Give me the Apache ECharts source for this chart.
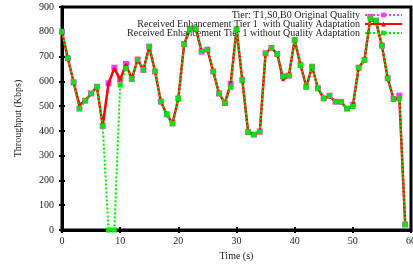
<!DOCTYPE html>
<html><head><meta charset="utf-8">
<script src="https://cdn.jsdelivr.net/npm/echarts@6/dist/echarts.min.js"></script>
<style>html,body{margin:0;padding:0;background:#fff}#c{width:413px;height:265px}</style>
</head><body><div id="c"></div>
<script>
var times = [0,1,2,3,4,5,6,7,8,9,10,11,12,13,14,15,16,17,18,19,20,21,22,23,24,25,26,27,28,29,30,31,32,33,34,35,36,37,38,39,40,41,42,43,44,45,46,47,48,49,50,51,52,53,54,55,56,57,58,59];
var original = [800,693,596,490,522,551,578,420,592,655,607,670,610,688,646,740,640,518,467,430,531,750,812,812,720,728,640,551,512,590,810,605,395,385,397,713,735,710,620,623,767,666,578,659,572,531,542,518,517,490,505,655,686,860,845,744,612,529,542,22];
var withQA = [800,693,596,505,522,551,578,420,592,652,607,668,610,688,646,740,640,518,467,430,531,750,812,812,720,728,640,551,512,590,810,605,395,385,397,713,735,710,608,623,767,666,578,659,572,531,540,518,517,488,500,655,686,850,840,744,612,529,530,22];
var withoutQA = [800,693,596,490,522,551,578,420,0,0,585,652,610,688,646,740,640,518,467,430,531,750,812,812,720,728,640,551,512,575,810,605,395,385,397,713,735,710,620,623,767,666,578,659,572,531,542,518,517,490,498,655,686,852,845,744,612,529,530,22];
var seriesNames = ['Tier: T1,S0,B0 Original Quality','Received Enhancement Tier 1  with Quality Adaptation','Received Enhancement Tier 1 without Quality Adaptation'];
var xTicks = [0,10,20,30,40,50,60];
var yTicks = [0,100,200,300,400,500,600,700,800,900];

function pairs(v){ return times.map(function(t,i){ return [t, v[i]]; }); }
var font = 'Liberation Serif';
var chart = echarts.init(document.getElementById('c'), null, {renderer:'canvas'});
chart.setOption({
  animation:false,
  backgroundColor:'#fff',
  grid:{left:62,right:2,top:7,bottom:35,show:true,borderColor:'#000',borderWidth:3,backgroundColor:'transparent',
        containLabel:false, outerBoundsMode:'none'},
  legend:{
    orient:'vertical', right:5, top:5, align:'right', itemGap:-1, itemWidth:37, itemHeight:6,
    textStyle:{fontFamily:font, fontSize:10, color:'#222', lineHeight:9, padding:[0,0,0,0]},
    data:seriesNames
  },
  xAxis:[{
    type:'value', min:xTicks[0], max:xTicks[xTicks.length-1], interval:10,
    name:'Time (s)', nameLocation:'middle', nameGap:17,
    nameTextStyle:{fontFamily:font, fontSize:10, color:'#222'},
    axisLine:{show:true, lineStyle:{color:'#000', width:3}},
    axisTick:{show:true, inside:true, length:3, lineStyle:{color:'#000', width:2}},
    axisLabel:{fontFamily:font, fontSize:10, color:'#222', margin:6},
    splitLine:{show:false}
  },{
    type:'value', min:xTicks[0], max:xTicks[xTicks.length-1], interval:10, position:'top',
    axisLine:{show:false}, axisTick:{show:true, inside:true, length:3, lineStyle:{color:'#000', width:2}},
    axisLabel:{show:false}, splitLine:{show:false}
  }],
  yAxis:[{
    type:'value', min:yTicks[0], max:yTicks[yTicks.length-1], interval:100,
    name:'Throughput (Kbps)', nameLocation:'middle', nameGap:39,
    nameTextStyle:{fontFamily:font, fontSize:10, color:'#222'},
    axisLine:{show:true, lineStyle:{color:'#000', width:3}},
    axisTick:{show:true, inside:true, length:3, lineStyle:{color:'#000', width:2}},
    axisLabel:{fontFamily:font, fontSize:10, color:'#222', margin:8},
    splitLine:{show:false}
  },{
    type:'value', min:yTicks[0], max:yTicks[yTicks.length-1], interval:100, position:'right',
    axisLine:{show:false}, axisTick:{show:true, inside:true, length:3, lineStyle:{color:'#000', width:2}},
    axisLabel:{show:false}, splitLine:{show:false}
  }],
  series:[
    {name:seriesNames[0], type:'line', data:pairs(original), symbol:'rect', symbolSize:6,
     itemStyle:{color:'#f040f0'}, lineStyle:{color:'#f040f0', width:2, type:'dotted'}, z:2},
    {name:seriesNames[1], type:'line', data:pairs(withQA), symbol:'triangle', symbolSize:4,
     itemStyle:{color:'#ff0000'}, lineStyle:{color:'#ff0000', width:2.5}, z:3},
    {name:seriesNames[2], type:'line', data:pairs(withoutQA), symbol:'rect', symbolSize:5,
     itemStyle:{color:'#00e600'}, lineStyle:{color:'#00e600', width:2, type:[2,2]}, z:4}
  ]
});
</script></body></html>
